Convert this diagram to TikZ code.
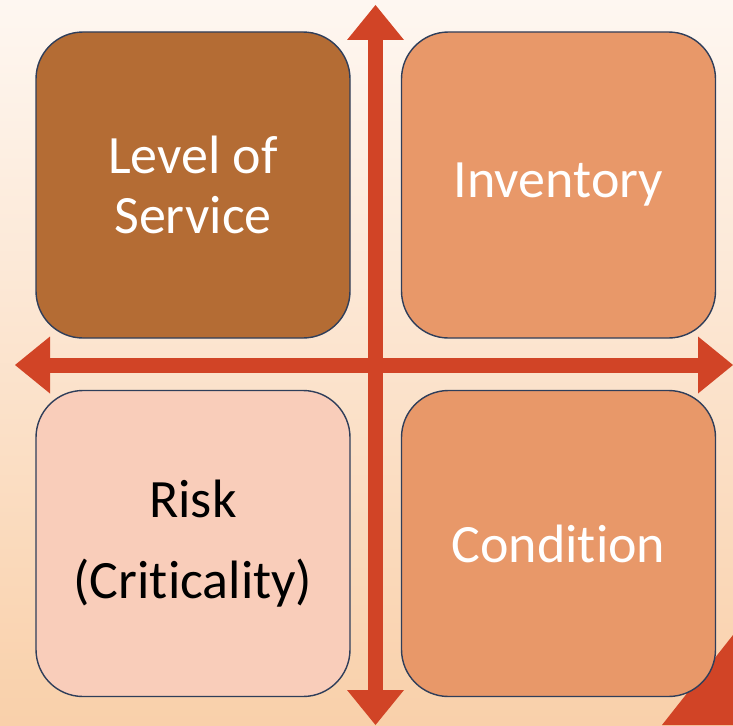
\documentclass[tikz,border=0pt]{standalone}
\usepackage{fontspec}
\setmainfont{Carlito}[Ligatures={NoCommon,NoDiscretionary}]
\usetikzlibrary{arrows.meta}

\definecolor{bgtop}{RGB}{254,247,241}
\definecolor{bgbottom}{RGB}{249,208,170}
\definecolor{axisred}{RGB}{209,68,38}
\definecolor{brownbox}{RGB}{180,108,52}
\definecolor{peachbox}{RGB}{232,152,105}
\definecolor{pinkbox}{RGB}{249,205,186}
\definecolor{boxline}{RGB}{47,62,90}

\tikzset{
  quad/.style={draw=boxline, line width=1.4pt, rounded corners=47pt,
    minimum width=314pt, minimum height=306pt, inner sep=0pt,
    align=center, font=\fontsize{54}{60}\selectfont},
  axistip/.tip={Triangle[length=35pt,width=57pt,line width=0pt]},
  axis/.style={axisred, line width=15pt, axistip-axistip}
}

\begin{document}
\begin{tikzpicture}[x=1pt,y=-1pt]
        \useasboundingbox (0,0) rectangle (733,725);
        \shade[top color=bgtop, bottom color=bgbottom] (0,0) rectangle (733,725);

        % corner wedge
        \fill[axisred] (662,725) -- (733,635) -- (733,725) -- cycle;

        \node[quad, fill=brownbox, text=white] (service) at (193,185) {Level of\\Service};
        \node[quad, fill=peachbox, text=white] (inventory) at (558.5,185) {Inventory};
        \node[quad, fill=pinkbox, text=black] (risk) at (193,543.5) {Risk\\[21pt](Criticality)};
        \node[quad, fill=peachbox, text=white] (condition) at (558.5,543.5) {Condition};

        \coordinate (north) at (375.5,5);
        \coordinate (south) at (375.5,725);
        \coordinate (west) at (15,365);
        \coordinate (east) at (733,365);

        \draw[axis] (south) -- (north);
        \draw[axis] (west) -- (east);
    \end{tikzpicture}
\end{document}
